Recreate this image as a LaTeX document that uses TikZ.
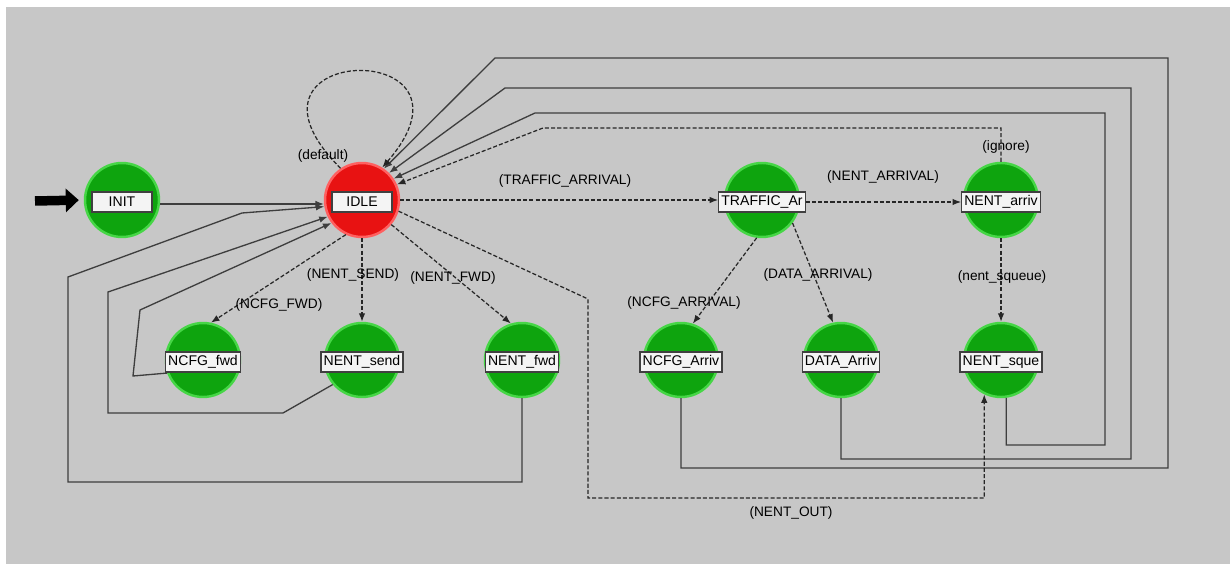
\documentclass[tikz,border=0pt]{standalone}
\usepackage{fontspec}
\setmainfont{Liberation Sans}
\usepackage{tikz}
\usetikzlibrary{arrows.meta, positioning}

\definecolor{bgGray}{RGB}{199,199,199}
\definecolor{stGreen}{RGB}{14,164,14}
\definecolor{stRim}{RGB}{70,214,70}
\definecolor{stRed}{RGB}{232,18,18}
\definecolor{stRedRim}{RGB}{255,96,96}
\definecolor{barWhite}{RGB}{244,244,244}
\definecolor{lineGray}{RGB}{62,62,62}

\begin{document}
\begin{tikzpicture}[
  x=0.02cm, y=-0.02cm,
  font=\fontsize{7.8}{9}\selectfont,
  state/.style={circle, draw=stRim, fill=stGreen, line width=1.4pt, minimum size=1.48cm, inner sep=0pt},
  idlestate/.style={state, draw=stRedRim, fill=stRed},
  bar/.style={draw=black!75, fill=barWhite, line width=0.7pt, minimum width=1.2cm, minimum height=0.4cm, inner xsep=1.5pt, inner ysep=0pt, font=\fontsize{8}{9}\selectfont},
  lbl/.style={inner sep=1pt},
  tr/.style={-{Latex[length=1.7mm,width=1.3mm]}, line width=0.75pt, draw=lineGray},
  cond/.style={-{Latex[length=1.7mm,width=1.3mm]}, line width=0.7pt, draw=black!85, dash pattern=on 2.3pt off 1.2pt},
  initarr/.style={-{Triangle[length=2.6mm,width=4.6mm]}, line width=1.9mm, shorten >=0.1cm},
]
% ---- canvas
\fill[white] (0,0) rectangle (1230,564);
\fill[bgGray] (6,7) rectangle (1230,564);
\useasboundingbox (0,0) rectangle (1230,564);

% ---- states
\node[idlestate] (idle) at (362,200) {};
\node[bar] (idle-lab) at (362,202) {IDLE};
\foreach \n/\x/\y/\t in {init/122/200/INIT, traffic/762/200/TRAFFIC\_Ar, nentArr/1001/200/NENT\_arriv,
    ncfgFwd/203/360/NCFG\_fwd, nentSend/362/360/NENT\_send, nentFwd/522/360/NENT\_fwd,
    ncfgArr/681/360/NCFG\_Arriv, dataArr/841/360/DATA\_Arriv, nentSque/1001/360/NENT\_sque}{
  \node[state] (\n) at (\x,\y) {};
  \node[bar] (\n-lab) at (\x,\y+2) {\t};
}

% ---- initial marker
\coordinate (start) at (35,201);
\draw[initarr] (start) -- (init.west);

% ---- forced transitions (solid)
\draw[tr] (init.-6) -- (idle.186);
\draw[tr] (nentFwd.south) |- (68,482) -- (68,277) -- (242,213) -- (idle.190);
\draw[tr] (nentSend.220) -- (283,413) -| (108,292) -- (idle.206);
\draw[tr] (ncfgFwd.200) -- (133,376) -- (140,310) -- (idle.217);
\draw[tr] (ncfgArr.south) |- (1168,468) |- (495,58) -- (idle.55);
\draw[tr] (dataArr.south) |- (1131,459) |- (505,88) -- (idle.45);
\draw[tr] (nentSque.-82) |- (1105,445) |- (535,113) -- (idle.34);

% ---- conditional transitions (dashed)
\draw[cond] (idle.124) .. controls (214,42) and (496,36) .. (idle.58);
\draw[cond] (idle.east) -- (idle.east -| traffic-lab.west);
\draw[cond] (traffic-lab.east) -- (nentArr-lab.west);
\draw[cond] (nentArr.north) |- (543,128) -- (idle.24);
\draw[cond] (nentArr.south) -- (nentSque.north);
\draw[cond] (idle.245) -- (ncfgFwd.78);
\draw[cond] (idle.south) -- (nentSend.north);
\draw[cond] (idle.-40) -- (nentFwd.107);
\draw[cond] (idle.-17) -- (588,299) -- (588,498) -| (nentSque.244);
\draw[cond] (traffic.262) -- (ncfgArr.72);
\draw[cond] (traffic.-37) -- (dataArr.102);

% ---- transition labels
\node[lbl] (lDefault) at (323,156) {(default)};
\node[lbl] (lTraffic) at (565,181) {(TRAFFIC\_ARRIVAL)};
\node[lbl] (lNentArr) at (883,177) {(NENT\_ARRIVAL)};
\node[lbl] (lIgnore) at (1006,147) {(ignore)};
\node[lbl] (lSqueue) at (1002,277) {(nent\_squeue)};
\node[lbl] (lSend) at (353,275) {(NENT\_SEND)};
\node[lbl] (lFwd) at (453,278) {(NENT\_FWD)};
\node[lbl] (lNcfgFwd) at (279,305) {(NCFG\_FWD)};
\node[lbl] (lNcfgArr) at (684,303) {(NCFG\_ARRIVAL)};
\node[lbl] (lData) at (818,275) {(DATA\_ARRIVAL)};
\node[lbl] (lOut) at (791,513) {(NENT\_OUT)};
\end{tikzpicture}
\end{document}
